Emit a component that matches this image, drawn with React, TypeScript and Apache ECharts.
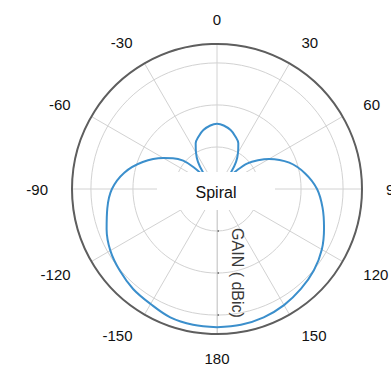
import React, { useEffect, useRef } from "react";
import * as echarts from "echarts";

// Angle (degrees, 0 = up, clockwise positive) and gain (dBic)
const angles = [
  -180, -170, -160, -150, -140, -130, -120, -110, -100, -90, -80, -70, -60, -55, -50, -47, -44,
  -40, -35, -30, -25, -19, -13, -6, 0, 6, 13, 19, 25, 30, 35, 40,
  44, 47, 50, 55, 60, 70, 80, 90, 100, 110, 120, 130, 140, 150, 160, 170, 180,
];
const gain = [
  2.9, 2.8, 2.5, 1.6, 1.05, 0.2, -0.7, -2.05, -3.5, -5.0, -7.6, -11.2, -15.25, -17.2, -19.5, -22.4, -27.1,
  -24.8, -22.1, -20.0, -18.0, -16.7, -15.6, -14.8, -14.5, -14.8, -15.6, -16.7, -18.0, -20.0, -22.1, -24.8,
  -27.1, -23.3, -20.5, -18.1, -15.7, -11.7, -8.7, -6.2, -4.5, -2.9, -1.2, 0.1, 1.05, 1.9, 2.5, 2.8, 2.9,
];
const angleTicks = { min: -180, max: 180, interval: 30 };
const radiusTicks = { min: -30, max: 4.5, interval: 10 };
const centerLabel = "Spiral";
const radiusName = "GAIN ( dBic)";

const FONT = "'Liberation Sans', Arial, Helvetica, sans-serif";

export default function App() {
  const ref = useRef<HTMLDivElement>(null);
  useEffect(() => {
    document.body.style.margin = "0";
    const chart = echarts.init(ref.current!, undefined, { renderer: "svg" });
    chart.setOption({
      animation: false,
      backgroundColor: "#ffffff",
      polar: { center: [217, 189], radius: 145 },
      angleAxis: {
        type: "value",
        min: angleTicks.min,
        max: angleTicks.max,
        interval: angleTicks.interval,
        startAngle: -90,
        clockwise: true,
        z: 1,
        axisLine: { show: true, lineStyle: { color: "#5e5e5e", width: 2 } },
        axisTick: { show: false },
        axisLabel: {
          margin: 24,
          fontSize: 15,
          lineHeight: 1,
          color: "#111",
          fontFamily: FONT,
          formatter: (v: number) => (v === -180 || v === 180 ? "180" : String(v)),
        },
        splitLine: { show: true, lineStyle: { color: "#d2d2d2", width: 1 } },
      },
      radiusAxis: {
        type: "value",
        min: radiusTicks.min,
        max: radiusTicks.max,
        interval: radiusTicks.interval,
        z: 0,
        axisLine: { show: true, lineStyle: { color: "#d2d2d2", width: 1 } },
        axisTick: { show: true, length: 2, lineStyle: { color: "#666", width: 1.5 } },
        axisLabel: { show: false },
        splitLine: { show: true, lineStyle: { color: "#d2d2d2", width: 1 } },
      },
      series: [
        {
          type: "line",
          coordinateSystem: "polar",
          data: angles.map((a, i) => [gain[i], a]),
          smooth: 0.35,
          symbol: "none",
          z: 3,
          lineStyle: { color: "#3b8fcc", width: 2 },
        },
      ],
      graphic: [
        {
          type: "rect",
          z: 10,
          shape: { x: 157, y: 172, width: 118, height: 38 },
          style: { fill: "#ffffff" },
        },
        {
          type: "text",
          z: 11,
          x: 216,
          y: 192,
          style: {
            text: centerLabel,
            fontSize: 16,
            fontFamily: FONT,
            fill: "#111",
            align: "center",
            verticalAlign: "middle",
            textAlign: "center",
            textVerticalAlign: "middle",
          },
        },
        {
          type: "text",
          z: 11,
          x: 237,
          y: 273,
          rotation: -Math.PI / 2,
          style: {
            text: radiusName,
            fontSize: 16,
            fontFamily: FONT,
            fill: "#3a3a3a",
            align: "center",
            verticalAlign: "middle",
            textAlign: "center",
            textVerticalAlign: "middle",
          },
        },
      ],
    });
    return () => chart.dispose();
  }, []);
  return <div ref={ref} style={{ width: 391, height: 369 }} />;
}
